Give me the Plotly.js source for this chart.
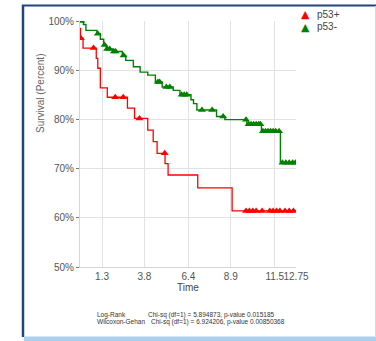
<!DOCTYPE html>
<html>
<head>
<meta charset="utf-8">
<script src="https://cdn.plot.ly/plotly-3.0.1.min.js"></script>
<style>html,body{margin:0;padding:0;background:#fff;}#chart{width:376px;height:341px;}</style>
</head>
<body>
<div id="chart"></div>
<script>
// ---- data ----
const groupNames = ['p53+', 'p53-'];
const redTimes = [0, 0.03, 0.18, 0.96, 1.05, 1.2, 1.61, 2.8, 3.22, 4.0, 4.32, 4.55, 5.02, 5.2, 6.95, 8.98, 12.75];
const redSurv  = [98.5, 96.5, 94.5, 92.4, 90.4, 86.4, 84.5, 82.3, 80.2, 77.8, 75.5, 73.1, 71.0, 68.7, 66.1, 61.4, 61.4];
const redCensorTimes = [0.05, 0.8, 2.08, 2.55, 3.51, 5.0, 9.8, 10.0, 10.2, 10.4, 10.75, 11.2, 11.4, 11.6, 11.8, 12.1, 12.35, 12.6];
const redCensorSurv  = [96.5, 94.5, 84.5, 84.5, 80.2, 73.1, 61.4, 61.4, 61.4, 61.4, 61.4, 61.4, 61.4, 61.4, 61.4, 61.4, 61.4, 61.4];

const greenTimes = [0, 0.2, 0.35, 1.0, 1.2, 1.4, 1.55, 1.95, 2.5, 2.7, 3.15, 3.55, 4.0, 4.45, 4.85, 5.5, 5.9, 6.55, 6.7, 6.9, 8.06, 8.55, 9.85, 10.71, 11.83, 12.75];
const greenSurv  = [100, 99.3, 98.1, 97.4, 96.3, 95.1, 94.3, 93.8, 93.0, 92.0, 90.7, 89.6, 89.0, 87.6, 86.6, 85.9, 85.0, 84.0, 83.2, 81.9, 80.6, 79.95, 79.0, 77.6, 71.2, 71.2];
const greenCensorTimes = [0.08, 1.05, 1.45, 1.6, 1.75, 2.0, 2.1, 2.57, 4.6, 4.7, 5.1, 5.3, 6.0, 6.15, 6.3, 7.2, 7.8, 8.45, 9.8, 9.95, 10.1, 10.25, 10.4, 10.55, 10.65, 10.8, 10.95, 11.1, 11.25, 11.4, 11.55, 11.75, 11.95, 12.15, 12.35, 12.55, 12.72];
const greenCensorSurv  = [100, 97.4, 95.1, 94.3, 94.3, 93.8, 93.8, 93.0, 87.6, 87.6, 86.6, 86.6, 85.0, 85.0, 85.0, 81.9, 81.9, 80.6, 79.95, 79.0, 79.0, 79.0, 79.0, 79.0, 79.0, 77.6, 77.6, 77.6, 77.6, 77.6, 77.6, 77.6, 71.2, 71.2, 71.2, 71.2, 71.2];

const xTickVals = [1.3, 3.8, 6.4, 8.9, 11.5, 12.75];
const xTickText = ['1.3', '3.8', '6.4', '8.9', '11.5', '12.75'];
const yTickVals = [50, 60, 70, 80, 90, 100];
const yTickText = ['50%', '60%', '70%', '80%', '90%', '100%'];
const statLabels = ['Log-Rank', 'Wilcoxon-Gehan'];
const statTexts = ['Chi-sq (df=1) = 5.894873, p-value 0.015185', 'Chi-sq (df=1) = 6.924206, p-value 0.00850368'];

const RED = '#ff0000', GREEN = '#008000';
const FONT = 'Liberation Sans, Arial, sans-serif';

const traces = [
  {x: redTimes, y: redSurv, mode: 'lines', line: {shape: 'hv', color: RED, width: 1.3}, showlegend: false, hoverinfo: 'skip'},
  {x: greenTimes, y: greenSurv, mode: 'lines', line: {shape: 'hv', color: GREEN, width: 1.4}, showlegend: false, hoverinfo: 'skip'},
  {x: redCensorTimes, y: redCensorSurv, mode: 'markers', name: groupNames[0], showlegend: false, marker: {symbol: 'triangle-up', size: 7, color: RED}},
  {x: greenCensorTimes, y: greenCensorSurv, mode: 'markers', name: groupNames[1], showlegend: false, marker: {symbol: 'triangle-up', size: 7, color: GREEN}}
];

// plot area: left 80, right 296, top 21, bottom 267
const px = v => (v - 80) / 216;
const py = v => (267 - v) / 246;

const ann = (x, y, text, size, color, extra) => Object.assign({
  xref: 'paper', yref: 'paper', x: px(x), y: py(y), text: text, showarrow: false,
  font: {family: FONT, size: size, color: color}, xanchor: 'left', yanchor: 'middle'}, extra || {});

const annotations = [
  ann(40, 94, 'Survival (Percent)', 10, '#666', {textangle: -90, xanchor: 'center'}),
  ann(188, 287.5, 'Time', 10, '#444', {xanchor: 'center'}),
  ann(95, 315.2, statLabels[0], 6.5, '#333'),
  ann(145.5, 315.2, statTexts[0], 6.5, '#333'),
  ann(95, 321.8, statLabels[1], 6.5, '#333'),
  ann(148.5, 321.8, statTexts[1], 6.5, '#333'),
  // legend
  ann(305.5, 14.5, '\u25B2', 11, RED, {xanchor: 'center', font: {family: 'DejaVu Sans', size: 11, color: RED}}),
  ann(305.5, 27, '\u25B2', 11, GREEN, {xanchor: 'center', font: {family: 'DejaVu Sans', size: 11, color: GREEN}}),
  ann(314.5, 15, groupNames[0], 10, '#444'),
  ann(314.5, 26.5, groupNames[1], 10, '#444')
];

const shapes = [
  {type: 'line', xref: 'paper', yref: 'paper', x0: px(23), x1: px(23), y0: py(5), y1: py(337), line: {color: '#23457f', width: 2.5}},
  {type: 'line', xref: 'paper', yref: 'paper', x0: px(22), x1: px(376), y0: py(5.5), y1: py(5.5), line: {color: '#23457f', width: 2}},
  {type: 'line', xref: 'paper', yref: 'paper', x0: px(375.5), x1: px(375.5), y0: py(6), y1: py(336), line: {color: '#d8d8d8', width: 1}},
  {type: 'rect', xref: 'paper', yref: 'paper', x0: px(24), x1: px(376), y0: py(336.5), y1: py(341), fillcolor: '#a9d0ee', line: {width: 0}}
];

const layout = {
  width: 376, height: 341,
  margin: {l: 80, r: 80, t: 21, b: 74, pad: 0},
  paper_bgcolor: '#ffffff', plot_bgcolor: '#ffffff',
  font: {family: FONT, size: 10, color: '#555'},
  xaxis: {range: [0, 12.75], tickvals: xTickVals, ticktext: xTickText, tickangle: 0, showgrid: true, gridcolor: '#e2e2e2',
          zeroline: false, showline: true, linecolor: '#d6d6d6', ticks: '', ticklabelstandoff: 0,
          tickfont: {size: 10, color: '#555'}, fixedrange: true},
  yaxis: {range: [50, 100], tickvals: yTickVals, ticktext: yTickText, showgrid: true, gridcolor: '#e2e2e2',
          zeroline: false, showline: true, linecolor: '#d6d6d6', ticks: 'outside', ticklen: 3, tickcolor: '#777',
          tickfont: {size: 10, color: '#555'}, fixedrange: true},
  showlegend: false,
  annotations: annotations,
  shapes: shapes
};

Plotly.newPlot('chart', traces, layout, {staticPlot: true, displayModeBar: false});
</script>
</body>
</html>
